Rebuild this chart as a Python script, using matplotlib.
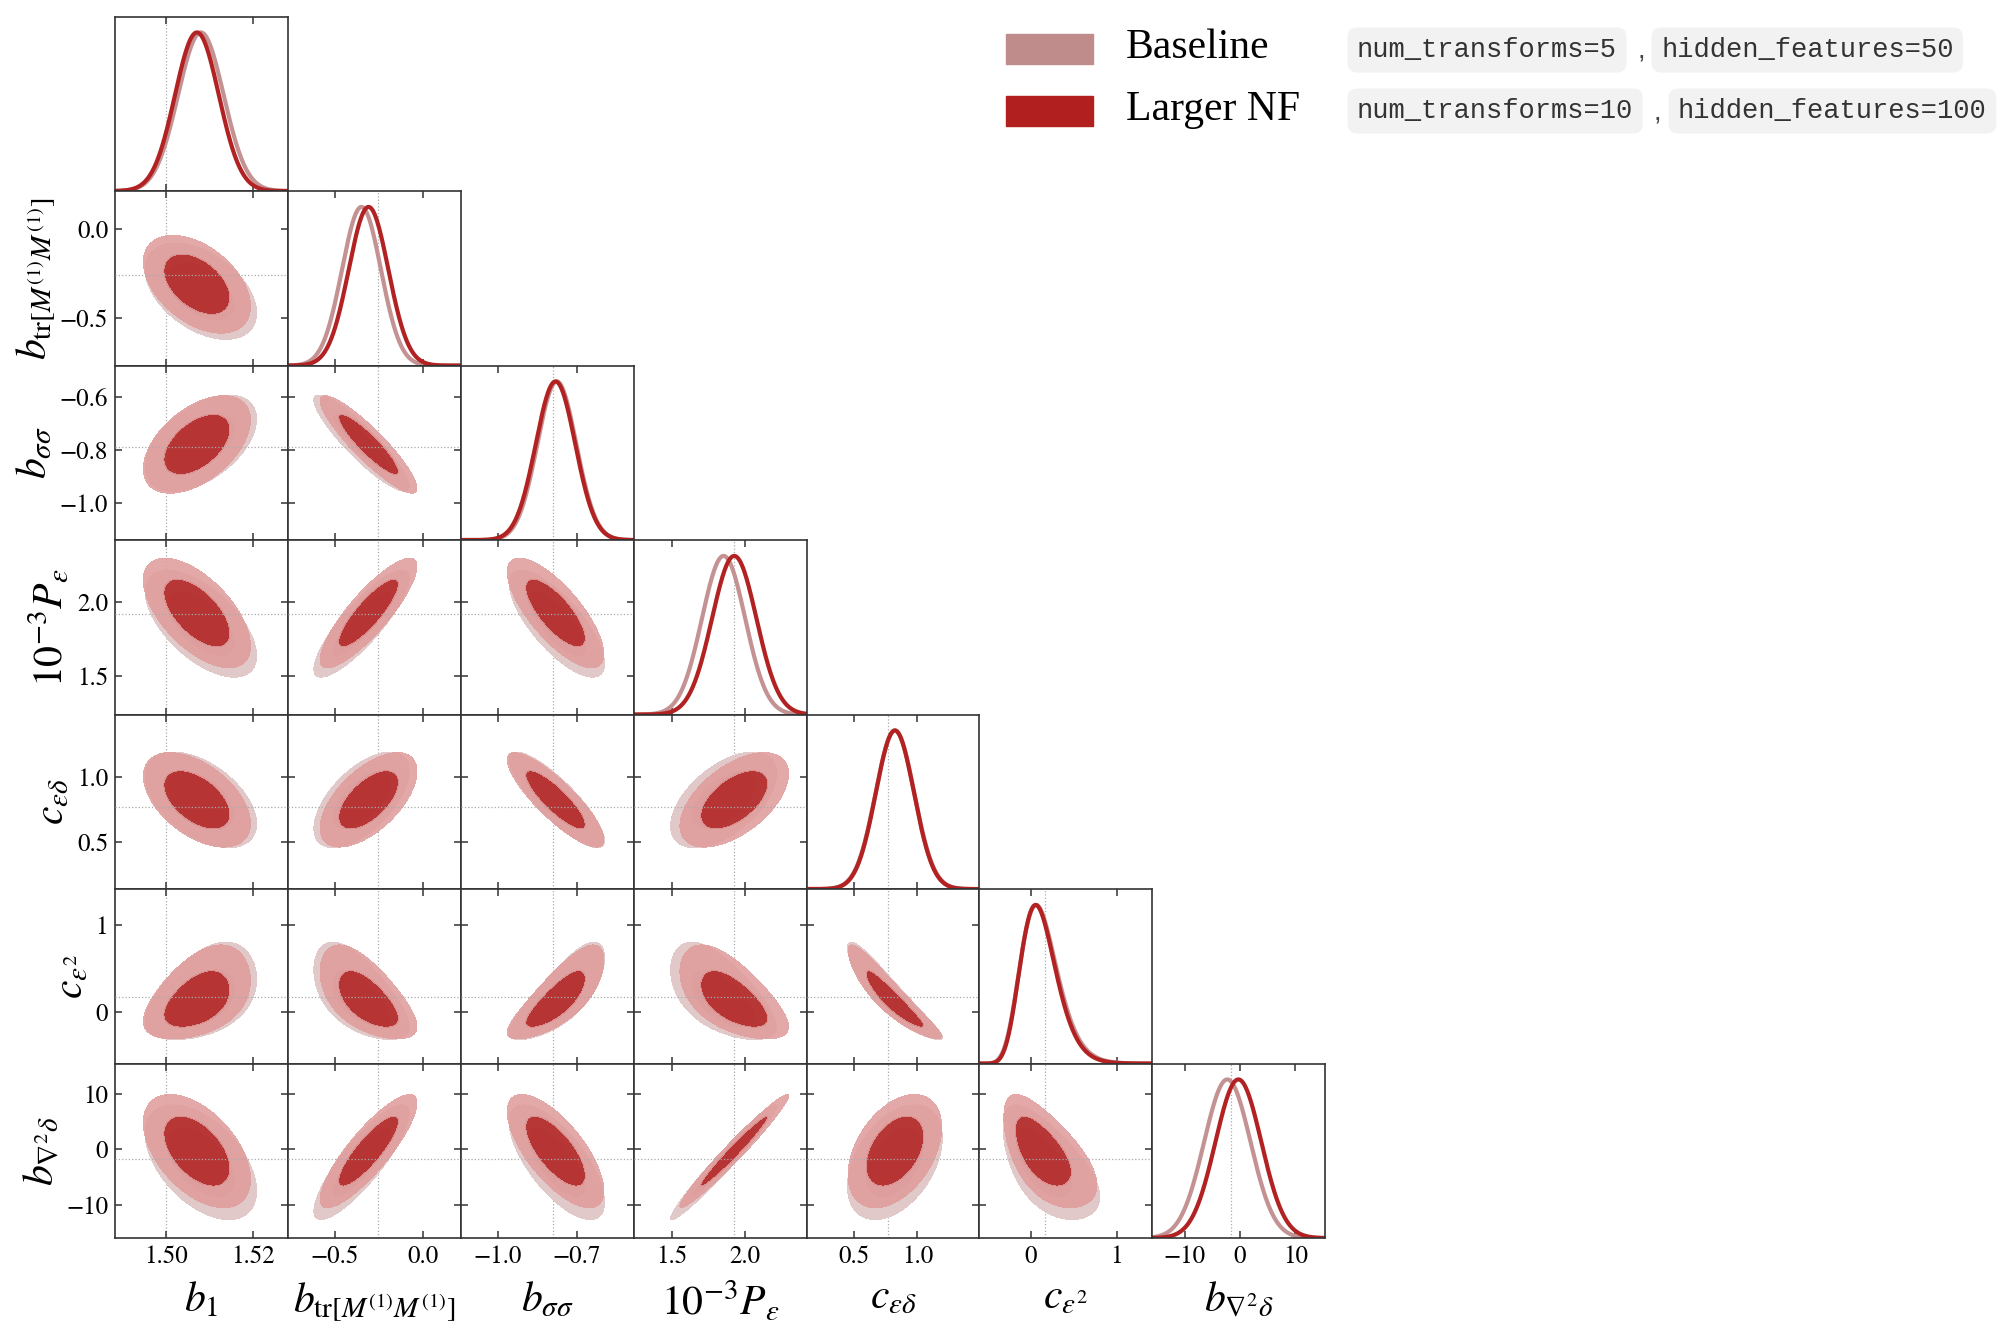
import numpy as np
import matplotlib
matplotlib.use('Agg')
import matplotlib.pyplot as plt
from matplotlib.patches import Rectangle

plt.rcParams['mathtext.fontset'] = 'stix'
plt.rcParams['font.family'] = ['STIXGeneral', 'DejaVu Serif']

# parameters (labels, plot ranges, ticks, fiducial values)
labels = [r'$b_1$', r'$b_{\mathrm{tr}[M^{(1)}M^{(1)}]}$', r'$b_{\sigma\sigma}$',
          r'$10^{-3}P_{\varepsilon}$', r'$c_{\varepsilon\delta}$', r'$c_{\varepsilon^2}$',
          r'$b_{\nabla^2\delta}$']
lims = [(1.4884, 1.5279), (-0.766, 0.212), (-1.140, -0.483), (1.236, 2.420),
        (0.130, 1.487), (-0.597, 1.410), (-15.9, 15.4)]
xticks = [[1.50, 1.52], [-0.5, 0.0], [-1.0, -0.7], [1.5, 2.0], [0.5, 1.0], [0, 1], [-10, 0, 10]]
xticklabels = [['1.50', '1.52'], ['\u22120.5', '0.0'], ['\u22121.0', '\u22120.7'], ['1.5', '2.0'],
               ['0.5', '1.0'], ['0', '1'], ['\u221210', '0', '10']]
yticks = [[], [-0.5, 0.0], [-1.0, -0.8, -0.6], [1.5, 2.0], [0.5, 1.0], [0, 1], [-10, 0, 10]]
yticklabels = [[], ['\u22120.5', '0.0'], ['\u22121.0', '\u22120.8', '\u22120.6'], ['1.5', '2.0'],
               ['0.5', '1.0'], ['0', '1'], ['\u221210', '0', '10']]
truths = [1.50, -0.258, -0.79, 1.92, 0.77, 0.167, -1.7]

# posterior summaries (mean, sigma, skew)
base_mean = [1.5080, -0.350, -0.775, 1.852, 0.824, 0.105, -2.3]
base_sigma = [0.0052, 0.110, 0.074, 0.148, 0.152, 0.220, 4.2]
nf_mean = [1.5071, -0.310, -0.780, 1.925, 0.824, 0.098, -0.3]
nf_sigma = [0.0050, 0.112, 0.075, 0.152, 0.150, 0.212, 4.15]
skew = [0.0, 0.0, 0.0, 0.0, 0.0, 0.2, 0.0]

# pairwise correlations, rows = y parameter, columns = x parameter
corr_rows = [
    [],
    [-0.45],
    [0.50, -0.90],
    [-0.60, 0.85, -0.75],
    [-0.50, 0.60, -0.85, 0.55],
    [0.45, -0.60, 0.78, -0.60, -0.92],
    [-0.50, 0.85, -0.70, 0.975, 0.42, -0.60],
]

BASE_LINE = '#c49292'
NF_LINE = '#b22222'
BASE_FILL = ['#d9b3b3', '#e2c9c9']
NF_FILL = ['#b22222', '#e09c9c']
LEVELS = [0, 2.279, 5.991]


def transform(u, mu, sig, s):
    if s == 0:
        return mu + sig * u
    return mu + sig * (np.exp(s * u) - 1) / s


def marginal(mu, sig, s):
    u = np.linspace(-7, 7, 800)
    x = transform(u, mu, sig, s)
    dxdu = sig * np.exp(s * u)
    p = np.exp(-0.5 * u ** 2) / dxdu
    return x, p / p.max()


fig = plt.figure(figsize=(19.98, 13.26), dpi=100)
left, right, bottom, top = 0.0576, 0.6632, 0.0663, 0.9875
n = len(labels)
w = (right - left) / n
h = (top - bottom) / n

u = np.linspace(-4.2, 4.2, 400)
U, V = np.meshgrid(u, u)

for i in range(n):
    for j in range(i + 1):
        ax = fig.add_axes([left + j * w, top - (i + 1) * h, w, h])
        ax.set_xlim(*lims[j])
        ax.axvline(truths[j], color='#aaaaaa', lw=0.9, ls=':', zorder=0)
        if i == j:
            for mu, sig, col in [(base_mean[i], base_sigma[i], BASE_LINE),
                                 (nf_mean[i], nf_sigma[i], NF_LINE)]:
                x, p = marginal(mu, sig, skew[i])
                ax.plot(x, p, color=col, lw=3.0)
            ax.set_ylim(0, 1.1)
            ax.set_yticks([])
        else:
            rho = corr_rows[i][j]
            Z = (U ** 2 - 2 * rho * U * V + V ** 2) / (1 - rho ** 2)
            for means, sigmas, fills, alpha in [(base_mean, base_sigma, BASE_FILL, 1.0),
                                                (nf_mean, nf_sigma, NF_FILL, 0.88)]:
                X = transform(U, means[j], sigmas[j], skew[j])
                Y = transform(V, means[i], sigmas[i], skew[i])
                ax.contourf(X, Y, Z, levels=LEVELS, colors=fills, alpha=alpha)
            ax.axhline(truths[i], color='#aaaaaa', lw=0.9, ls=':', zorder=3)
            ax.set_ylim(*lims[i])
            ax.set_yticks(yticks[i])
            if j == 0:
                ax.set_yticklabels(yticklabels[i], fontsize=18)
                ax.set_ylabel(labels[i], fontsize=30, labelpad=3)
            else:
                ax.set_yticklabels([])
        ax.set_xticks(xticks[j])
        if i == n - 1:
            ax.set_xticklabels(xticklabels[j], fontsize=18)
            ax.set_xlabel(labels[j], fontsize=30, labelpad=8)
        else:
            ax.set_xticklabels([])
        ax.tick_params(direction='in', top=True, right=(i != j), length=5, width=1.1,
                       color='#333333', pad=5)
        for sp in ax.spines.values():
            sp.set_color('#333333')
            sp.set_linewidth(1.2)

# legend
H = 1326.0
W = 1998.0
for y0, col, name in [(34, '#bf8b8b', 'Baseline'), (96, '#b21f1f', 'Larger NF')]:
    fig.patches.append(Rectangle((1006 / W, 1 - (y0 + 30) / H), 87 / W, 30 / H,
                                 transform=fig.transFigure, color=col))
    fig.text(1126 / W, 1 - (y0 + 14) / H, name, fontsize=30, va='center', ha='left',
             family=['Liberation Serif', 'DejaVu Serif'])

code_rows = [
    (50, [(1357, 'num_transforms=5'), (1661, 'hidden_features=50')], 1641),
    (111, [(1357, 'num_transforms=10'), (1678, 'hidden_features=100')], 1657),
]
for yc, items, comma_x in code_rows:
    for x0, txt in items:
        fig.text(x0 / W, 1 - yc / H, txt, fontsize=19.5, va='center', ha='left',
                 family=['Liberation Mono', 'DejaVu Sans Mono'], color='#333333',
                 bbox=dict(boxstyle='round,pad=0.35', fc='#f2f2f2', ec='none'))
    fig.text(comma_x / W, 1 - (yc + 2) / H, ',', fontsize=19.5, va='center', ha='center',
             family=['Liberation Sans', 'DejaVu Sans'], color='#444444')

fig.savefig('out.png', dpi=100)
